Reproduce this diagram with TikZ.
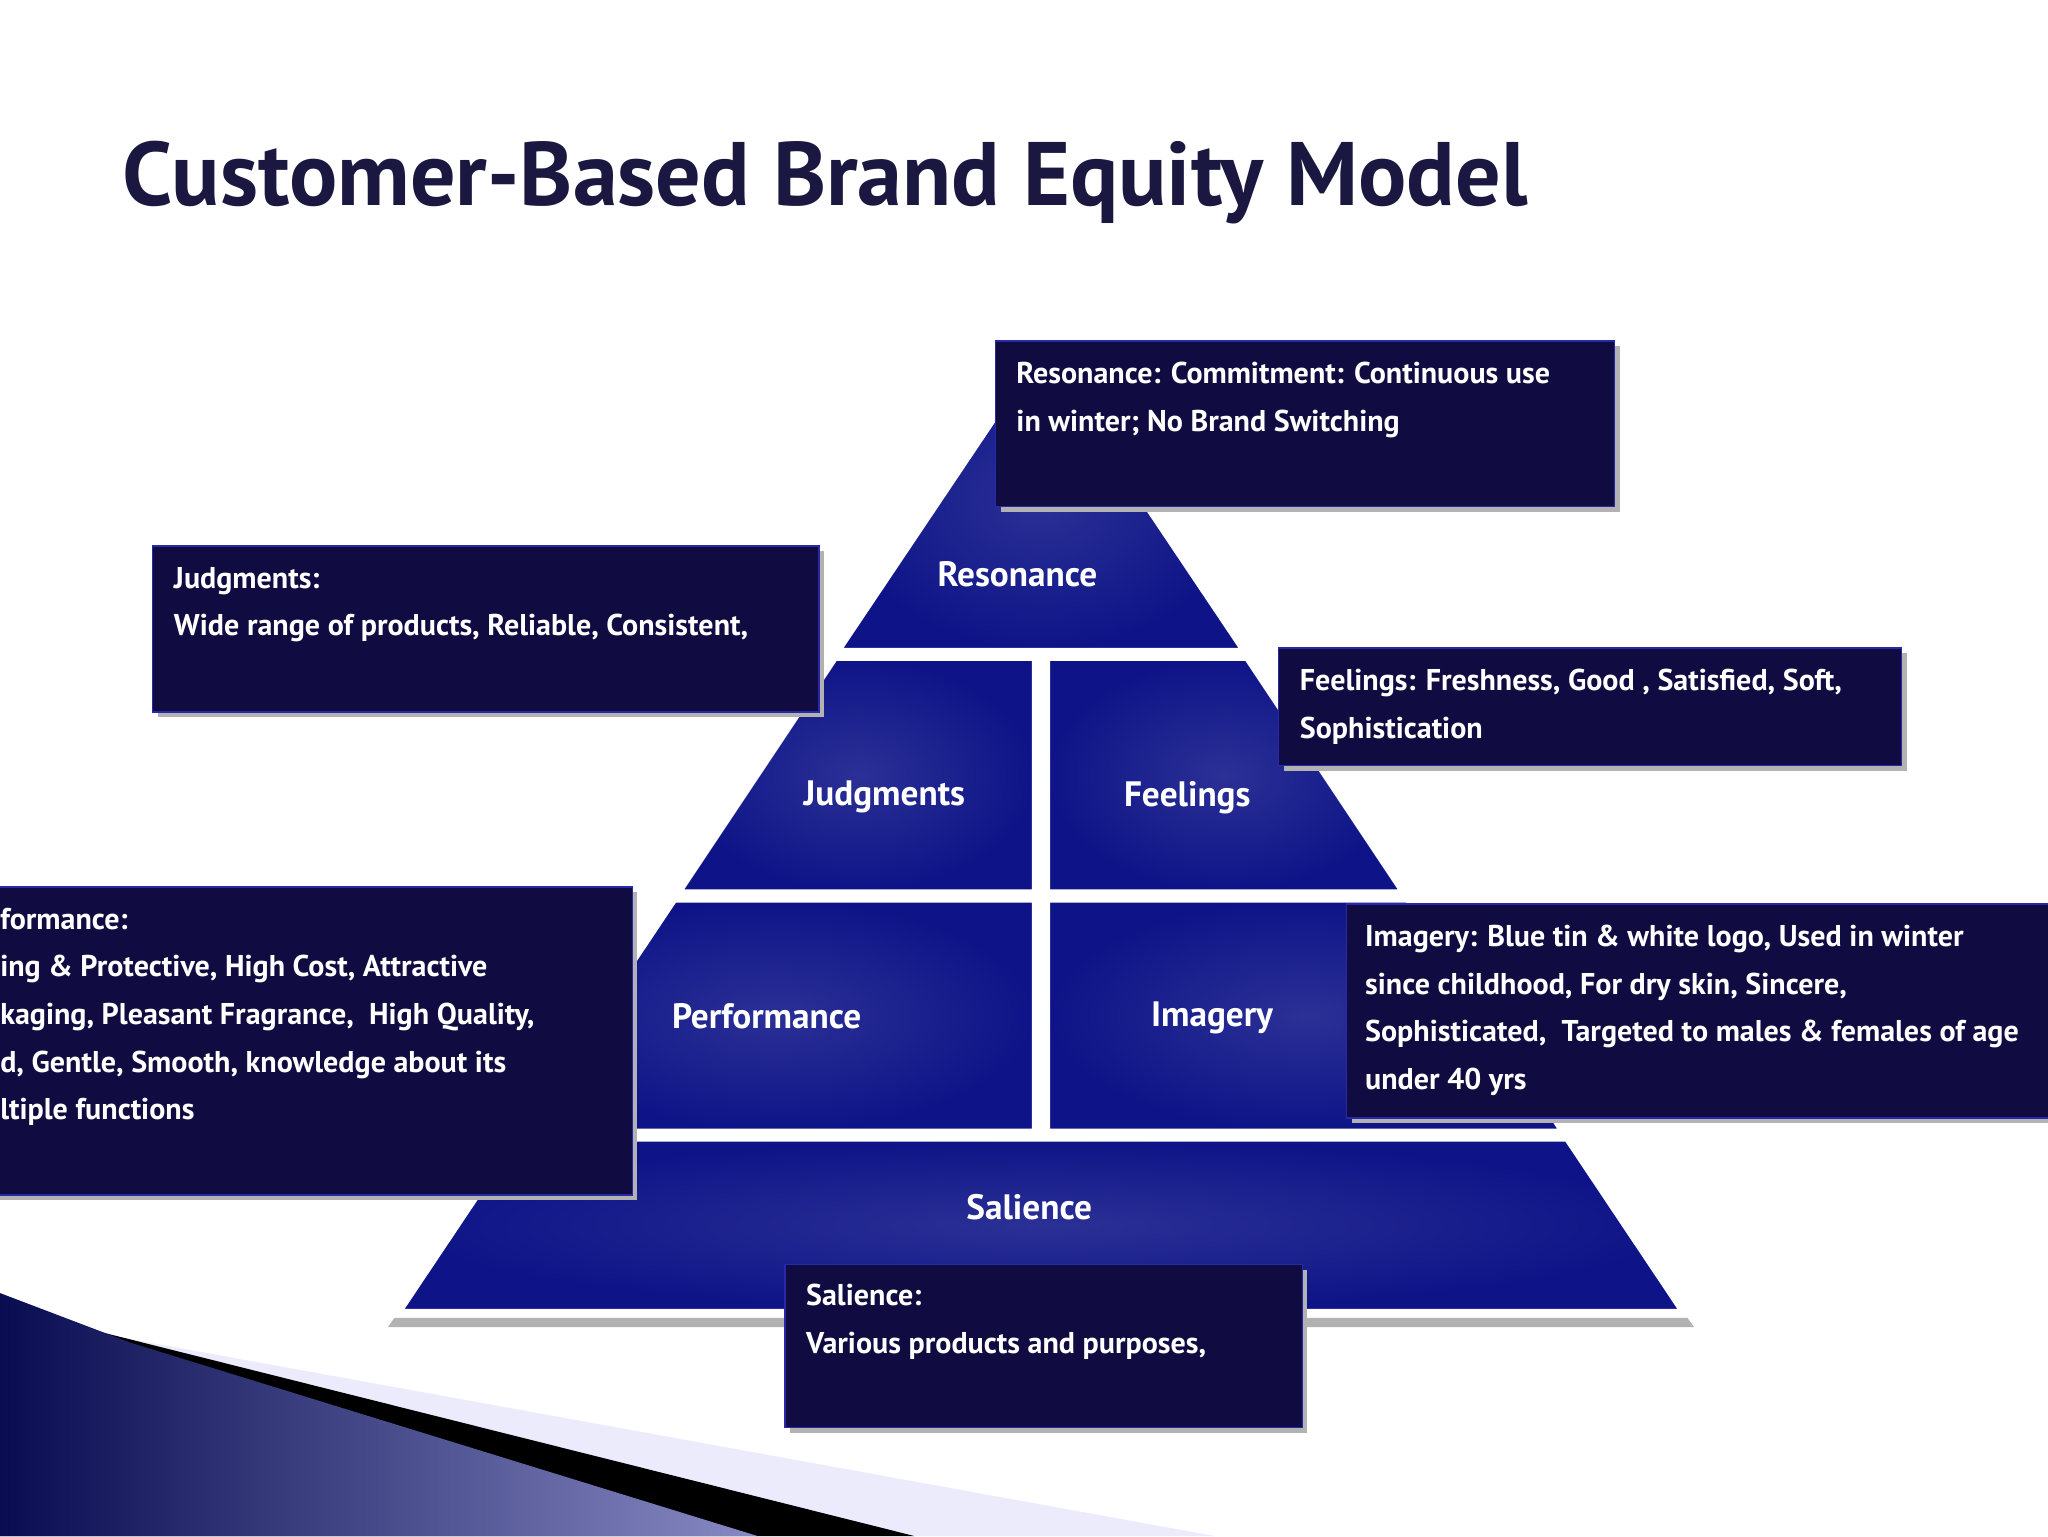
\documentclass[tikz,border=0pt]{standalone}
\usepackage{fontspec}
\setmainfont{PT Sans}
\usetikzlibrary{calc}
\definecolor{pyr}{RGB}{14,20,135}
\definecolor{boxc}{RGB}{16,12,66}
\definecolor{boxb}{RGB}{40,40,170}
\definecolor{titc}{RGB}{26,24,64}
\begin{document}
\begin{tikzpicture}[x=1pt,y=-1pt,
  tier/.style={draw=white,line width=2pt,inner color=pyr!88!white, outer color=pyr},
  lab/.style={text=white,font=\fontsize{27}{30}\selectfont\bfseries},
  box/.style={fill=boxc,draw=boxb,line width=1pt},
  btxt/.style={text=white,anchor=north west,align=left,inner sep=0pt,font=\fontsize{23}{36.5}\selectfont\bfseries},
  sh/.style={fill=black!30}]
\useasboundingbox (0,0) rectangle (1568,1176);
\clip (0,0) rectangle (1568,1176);
% title
\node[text=titc,anchor=west,font=\fontsize{69}{74}\selectfont\bfseries] (title) at (90,140) {Customer-Based Brand Equity Model};
% bottom-left decoration
\fill[black!15!blue!8!white] (60,1018) -- (930,1176) -- (0,1176) -- cycle;
\fill[black] (30,1008) -- (700,1176) -- (0,1176) -- cycle;
\shade[left color=pyr!60!black, right color=pyr!50!white] (0,990) -- (100,1028) -- (580,1176) -- (0,1176) -- cycle;
% pyramid shadows
\fill[sh] (302,1009) -- (1292,1009) -- (1297,1016) -- (297,1016) -- cycle;
% pyramid tiers
\path[tier] (797,269) -- (950,497) -- (644,497) -- cycle;
\path[tier] (640,505) -- (791,505) -- (791,682) -- (522,682) -- cycle;
\path[tier] (803,505) -- (954,505) -- (1072,682) -- (803,682) -- cycle;
\path[tier] (517,690) -- (791,690) -- (791,865) -- (400,865) -- cycle;
\path[tier] (803,690) -- (1077,690) -- (1194,865) -- (803,865) -- cycle;
\path[tier] (395,873) -- (1199,873) -- (1286,1003) -- (308,1003) -- cycle;
\node[lab] (lres) at (779,440) {Resonance};
\node[lab] (ljud) at (677,610) {Judgments};
\node[lab] (lfee) at (909,611) {Feelings};
\node[lab] (lper) at (587,778) {Performance};
\node[lab] (lima) at (928,779) {Imagery};
\node[lab] (lsal) at (788,924) {Salience};
% boxes
\fill[sh] (766,265) rectangle (1240,392);
\draw[box] (762,261) rectangle (1236,388);
\node[btxt] (tres) at (778,277) {Resonance: Commitment: Continuous use\\in winter; No Brand Switching};
\fill[sh] (121,422) rectangle (631,549);
\draw[box] (117,418) rectangle (627,545);
\node[btxt] (tjud) at (133,434) {Judgments:\\Wide range of products, Reliable, Consistent,};
\fill[sh] (983,500) rectangle (1460,590);
\draw[box] (979,496) rectangle (1456,586);
\node[btxt] (tfee) at (995,512) {Feelings: Freshness, Good , Satisfied, Soft,\\Sophistication};
\fill[sh] (-2,683) rectangle (488,919);
\draw[box] (-2,679) rectangle (484,915);
\node[btxt] (tper) at (0,695) {formance:\\ing \& Protective, High Cost, Attractive\\kaging, Pleasant Fragrance,\ \ High Quality,\\d, Gentle, Smooth, knowledge about its\\ltiple functions};
\fill[sh] (1035,696) rectangle (1572,860);
\draw[box] (1031,692) rectangle (1570,856);
\node[btxt] (tima) at (1045,708) {Imagery: Blue tin \& white logo, Used in winter\\since childhood, For dry skin, Sincere,\\Sophisticated,\ \ Targeted to males \& females of age\\under 40 yrs};
\fill[sh] (605,972) rectangle (1001,1097);
\draw[box] (601,968) rectangle (997,1093);
\node[btxt] (tsal) at (617,983) {Salience:\\Various products and purposes,};
\end{tikzpicture}
\end{document}
